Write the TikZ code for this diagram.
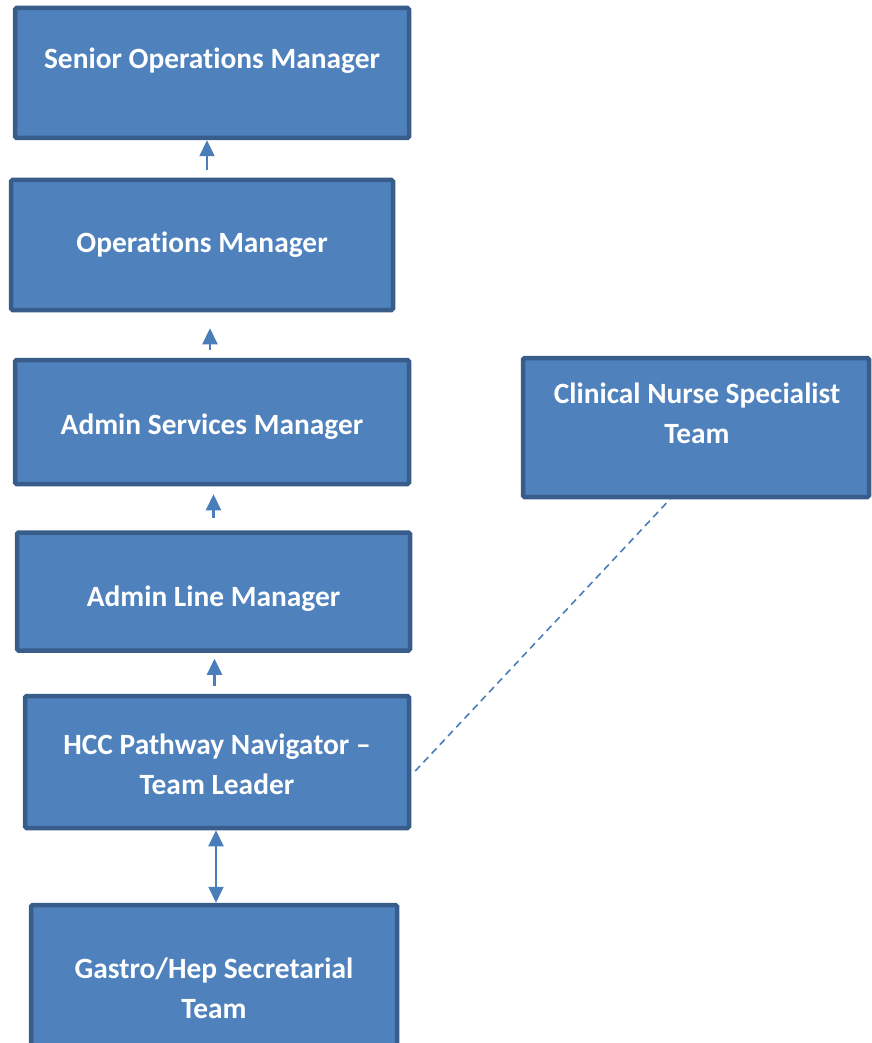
\documentclass[tikz,border=0pt]{standalone}
\usepackage{fontspec}
\setmainfont{Carlito}[Ligatures={TeX,NoCommon}]
\usepackage{tikz}
\usetikzlibrary{positioning,arrows.meta,calc}

\definecolor{boxfill}{HTML}{4F81BD}
\definecolor{boxline}{HTML}{385D8A}
\definecolor{linkblue}{HTML}{4A7EBB}

\tikzset{
    post/.style={draw=boxline, fill=boxfill, line width=4.5pt, rounded corners=1.5pt, inner sep=0pt},
    posttext/.style={text=white, font=\fontsize{29.4}{40}\selectfont\bfseries, align=center, inner sep=0pt},
    upline/.style={draw=linkblue, line width=2.2pt, -{Triangle[width=15pt,length=16pt]}},
    bothline/.style={draw=linkblue, line width=2.2pt, {Triangle[width=15pt,length=16pt]}-{Triangle[width=15pt,length=16pt]}},
    dotted link/.style={draw=linkblue, line width=1.6pt, dash pattern=on 7pt off 5pt}
}

\begin{document}
\begin{tikzpicture}[x=1pt,y=-1pt]
            \useasboundingbox (0,0) rectangle (871,1043);
            \node[post, minimum width=394pt, minimum height=130pt] (som) at (212,73) {};
            \node[post, minimum width=382pt, minimum height=130pt] (om) at (202,245) {};
            \node[post, minimum width=394pt, minimum height=124pt] (asm) at (212,422) {};
            \node[post, minimum width=393pt, minimum height=118pt] (alm) at (213.5,591.5) {};
            \node[post, minimum width=384pt, minimum height=132pt] (hcc) at (217,762) {};
            \node[post, minimum width=366pt, minimum height=160pt] (gas) at (214,985) {};
            \node[post, minimum width=346pt, minimum height=139pt] (cns) at (696,427.5) {};

            \node[posttext] (somtext) at ([yshift=-55pt]som.north) {Senior Operations Manager};
            \node[posttext] (omtext) at ([yshift=-67pt]om.north) {Operations Manager};
            \node[posttext] (asmtext) at ([yshift=-69pt]asm.north) {Admin Services Manager};
            \node[posttext] (almtext) at ([yshift=-68pt]alm.north) {Admin Line Manager};
            \node[posttext] (hcctext) at ([yshift=-71pt]hcc.north) {HCC Pathway Navigator –\\Team Leader};
            \node[posttext] (gastext) at ([yshift=-86pt]gas.north) {Gastro/Hep Secretarial\\Team};
            \node[posttext] (cnstext) at ([xshift=1pt,yshift=-58pt]cns.north) {Clinical Nurse Specialist\\Team};

            % reporting lines
            \draw[upline, shorten <=8pt] ([xshift=5pt]om.north) -- ([xshift=5pt]om.north |- som.south);
            \draw[upline, shorten <=8pt, shorten >=16pt] ([xshift=-2pt]asm.north) -- ([xshift=-2pt]asm.north |- om.south);
            \draw[upline, shorten <=12pt, shorten >=8pt] (alm.north) -- (alm.north |- asm.south);
            \draw[upline, shorten <=8pt, shorten >=6pt] ([xshift=-2.5pt]hcc.north) -- ([xshift=-2.5pt]hcc.north |- alm.south);
            \draw[bothline] ([xshift=2pt]gas.north) -- ([xshift=2pt]gas.north |- hcc.south);
            \draw[dotted link] ([shift={(4pt,-9pt)}]hcc.east) -- ([xshift=-26pt]cns.south);
        \end{tikzpicture}
\end{document}
